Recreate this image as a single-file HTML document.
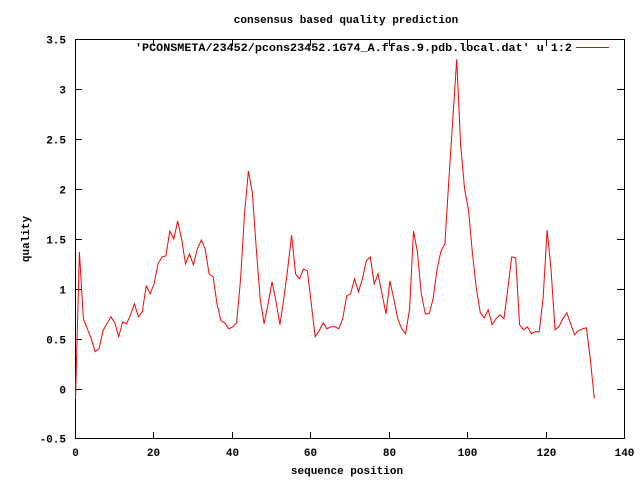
<!DOCTYPE html>
<html><head><style>
body{margin:0;background:#fff}
svg text{font-family:"Liberation Mono",monospace;font-size:11px;font-weight:bold;fill:#000}
</style></head><body>
<svg id="s" width="640" height="480" xmlns="http://www.w3.org/2000/svg">
<rect width="640" height="480" fill="#fff"/>
<g id="ax" stroke="#000" stroke-width="1" fill="none"><rect x="75.5" y="39.5" width="549" height="399"/></g>
<g id="lb"></g>
<text x="346" y="23" text-anchor="middle">consensus based quality prediction</text>
<text x="347" y="474" text-anchor="middle">sequence position</text>
<text transform="translate(29,239) rotate(-90)" text-anchor="middle">quality</text>
<text x="135" y="51" textLength="437" lengthAdjust="spacingAndGlyphs">'PCONSMETA/23452/pcons23452.1G74_A.ffas.9.pdb.local.dat' u 1:2</text>
<rect x="576" y="47" width="33" height="1" fill="#ff0000" stroke="none"/>
<polyline id="pl" fill="none" stroke="#ff0000" stroke-width="1"/>
</svg>
<script>
var X=function(i){return 75.5+3.93*i},Y=function(v){return 388.6-99.75*v};
var ax=document.getElementById('ax'),lb=document.getElementById('lb'),ns='http://www.w3.org/2000/svg';
function el(p,t,a){var e=document.createElementNS(ns,t);for(var k in a)e.setAttribute(k,a[k]);p.appendChild(e);return e;}
for(var i=0;i<=140;i+=20){var x=Math.round(75+3.921*i)+0.5;el(ax,'line',{x1:x,y1:439,x2:x,y2:432});el(ax,'line',{x1:x,y1:39,x2:x,y2:46});var t=el(lb,'text',{x:x,y:456,'text-anchor':'middle'});t.textContent=i;}
for(var v=-0.5;v<=3.51;v+=0.5){var y=Math.round(Y(v))+0.5;el(ax,'line',{x1:75,y1:y,x2:82,y2:y});el(ax,'line',{x1:624,y1:y,x2:617,y2:y});var t=el(lb,'text',{x:66,y:y+4,'text-anchor':'end'});t.textContent=(Math.abs(v)<1e-9?'0':String(v));}
var d=[-0.1,1.37,0.7,0.6,0.5,0.37,0.4,0.58,0.65,0.72,0.66,0.52,0.67,0.65,0.74,0.85,0.72,0.77,1.03,0.95,1.05,1.25,1.32,1.33,1.58,1.5,1.68,1.5,1.25,1.35,1.24,1.4,1.49,1.4,1.15,1.12,0.85,0.68,0.66,0.6,0.62,0.66,1.1,1.75,2.18,1.97,1.4,0.9,0.65,0.85,1.07,0.88,0.64,0.9,1.2,1.54,1.15,1.1,1.2,1.18,0.85,0.52,0.58,0.66,0.6,0.62,0.62,0.6,0.7,0.93,0.95,1.1,0.97,1.1,1.28,1.32,1.05,1.15,0.95,0.75,1.08,0.9,0.7,0.6,0.55,0.8,1.58,1.37,0.95,0.75,0.75,0.9,1.2,1.38,1.45,2.1,2.7,3.3,2.45,2.0,1.79,1.36,1.0,0.76,0.71,0.79,0.64,0.7,0.74,0.7,1.0,1.32,1.31,0.64,0.59,0.62,0.55,0.57,0.57,0.92,1.59,1.2,0.59,0.62,0.7,0.76,0.65,0.54,0.58,0.6,0.61,0.3,-0.1];
var p=[];for(var i=0;i<d.length;i++)p.push(X(i).toFixed(1)+','+Y(d[i]).toFixed(1));
document.getElementById('pl').setAttribute('points',p.join(' '));
</script>
</body></html>
